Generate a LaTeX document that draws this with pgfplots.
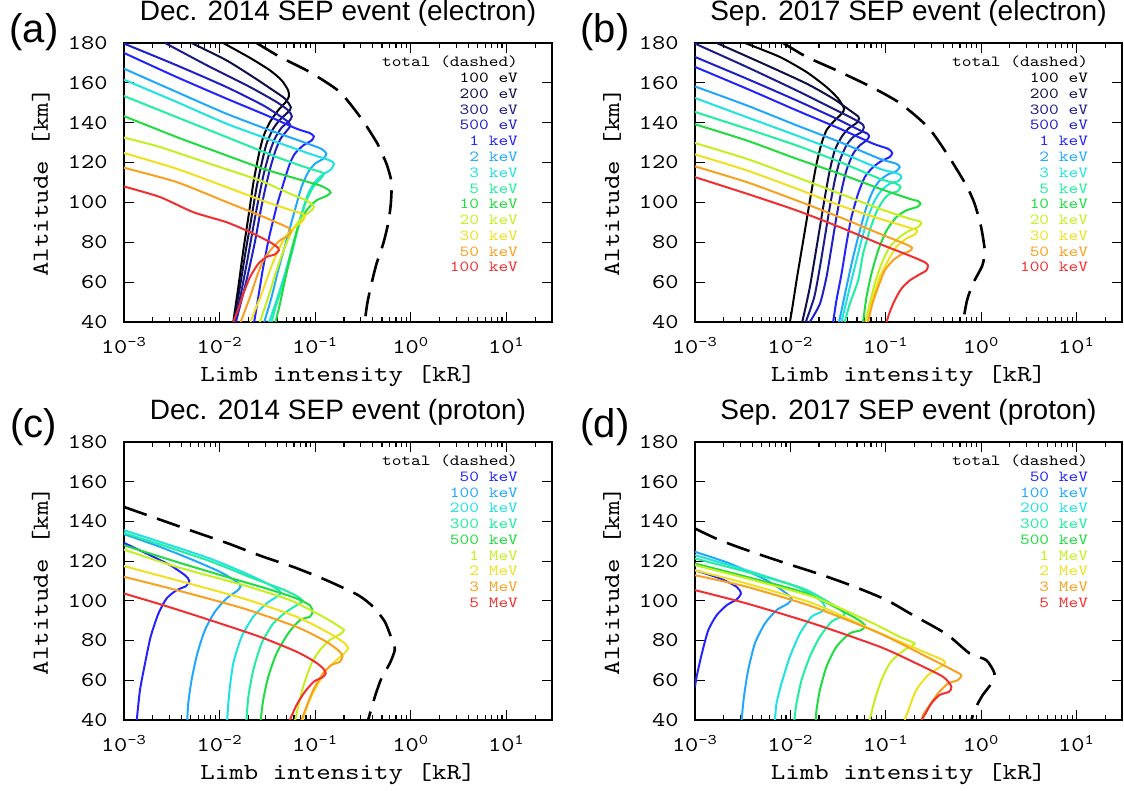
\documentclass[border=0pt]{standalone}
\usepackage{fontspec}
\setmainfont{Liberation Sans}
\newfontfamily\cour[FakeStretch=1.2]{lmmono10-regular.otf}
\usepackage{pgfplots}
\pgfplotsset{compat=1.18}

\definecolor{c1}{HTML}{000000}
\definecolor{c2}{HTML}{101048}
\definecolor{c3}{HTML}{1C1C88}
\definecolor{c4}{HTML}{2020C8}
\definecolor{c5}{HTML}{2424FF}
\definecolor{c6}{HTML}{20A8FF}
\definecolor{c7}{HTML}{20E2E0}
\definecolor{c8}{HTML}{20EEA0}
\definecolor{c9}{HTML}{20DC40}
\definecolor{c10}{HTML}{C4F020}
\definecolor{c11}{HTML}{F0E020}
\definecolor{c12}{HTML}{F8A020}
\definecolor{c13}{HTML}{F03030}

\pgfplotsset{
 myaxis/.style={
  scale only axis, width=214pt, height=139.5pt,
  xmin=1e-3, xmax=30, ymin=40, ymax=180,
  axis line style={line width=1.1pt},
  tick align=inside,
  major tick length=5pt, minor tick length=2.5pt,
  every tick/.append style={black, line width=0.6pt},
  xtick={0.001,0.01,0.1,1,10},
  xticklabels={10\textsuperscript{-3},10\textsuperscript{-2},10\textsuperscript{-1},10\textsuperscript{0},10\textsuperscript{1}},
  minor xtick={0.002,0.003,0.004,0.005,0.006,0.007,0.008,0.009,0.02,0.03,0.04,0.05,0.06,0.07,0.08,0.09,0.2,0.3,0.4,0.5,0.6,0.7,0.8,0.9,2,3,4,5,6,7,8,9,20,30},
  ytick={40,60,80,100,120,140,160,180},
  yticklabels={40,60,80,100,120,140,160,180},
  tick label style={font=\cour\fontsize{10.5}{12}\selectfont},
  yticklabel style={anchor=east, inner sep=0pt, xshift=-8pt},
  xticklabel style={anchor=base, inner sep=0pt, yshift=-16pt},
  xlabel={Limb intensity [kR]}, ylabel={Altitude [km]},
  xlabel style={at={(axis description cs:0.5,-0.2143)}, anchor=base, font=\cour\fontsize{11.5}{14}\selectfont},
  ylabel style={at={(axis description cs:-0.194,0.5)}, anchor=center, font=\cour\fontsize{11.5}{14}\selectfont},
  title style={at={(axis description cs:0.5,1)}, anchor=base, yshift=5pt, font=\fontsize{14}{16}\selectfont},
 },
 cv/.style={line width=1pt, smooth, tension=0.4},
 tot/.style={black, line width=1.3pt, dash pattern=on 12pt off 5.5pt, smooth, tension=0.4},
}
\tikzset{panel/.style={font=\fontsize{20}{22}\selectfont, xshift=-45pt, yshift=5.5pt}}
\newcommand{\legrow}[3]{\node[anchor=base east, inner sep=0pt, text=#2, font=\cour\fontsize{7.7}{9}\selectfont] at (rel axis cs:0.9213,#1) {#3};}

\begin{document}
\begin{tikzpicture}
\useasboundingbox (0,0) rectangle (562pt,395.5pt);

% ---------------- (a) ----------------
\begin{axis}[xmode=log, myaxis, name=axA, at={(62pt,234.5pt)}, anchor=south west, title={Dec. 2014 SEP event (electron)}]
\addplot[cv,c1] coordinates {(1.09e-2,180) (2.07e-2,172.6) (3.36e-2,166.3) (4.45e-2,161.3) (5.22e-2,156.2) (5.31e-2,153.2) (4.93e-2,150.4) (4.10e-2,146.2) (3.36e-2,140.3) (2.86e-2,132.8) (2.54e-2,122.8) (2.25e-2,109.4) (2.00e-2,92.6) (1.77e-2,75.9) (1.57e-2,57.5) (1.39e-2,40)};
\addplot[cv,c2] coordinates {(5.09e-3,180) (1.18e-2,171.3) (2.25e-2,162.9) (3.64e-2,156.2) (4.82e-2,152.1) (5.57e-2,147.7) (5.22e-2,145.4) (4.28e-2,141.5) (3.64e-2,137.0) (3.10e-2,129.5) (2.75e-2,119.4) (2.44e-2,107.7) (2.16e-2,92.6) (1.88e-2,75.9) (1.63e-2,57.5) (1.41e-2,40)};
\addplot[cv,c3] coordinates {(2.69e-3,180) (7.93e-3,168.0) (2.08e-2,157.9) (3.94e-2,150.4) (5.22e-2,146.2) (5.70e-2,143.2) (5.35e-2,140.8) (4.45e-2,137.5) (3.78e-2,132.0) (3.30e-2,124.4) (2.90e-2,114.4) (2.58e-2,102.7) (2.25e-2,87.6) (1.95e-2,70.9) (1.67e-2,54.1) (1.44e-2,40)};
\addplot[cv,c4] coordinates {(1.00e-3,179.7) (3.56e-3,168.8) (1.18e-2,157.9) (2.86e-2,148.7) (4.45e-2,142.8) (5.26e-2,140.2) (5.48e-2,138.3) (5.09e-2,136.2) (4.35e-2,132.0) (3.85e-2,126.1) (3.41e-2,117.7) (3.03e-2,107.7) (2.69e-2,96.0) (2.32e-2,79.2) (1.91e-2,60.8) (1.48e-2,40)};
\addplot[cv,c5] coordinates {(1.00e-3,175.0) (3.56e-3,162.9) (1.18e-2,152.1) (3.10e-2,143.7) (6.38e-2,137.0) (8.79e-2,134.8) (9.68e-2,133.1) (9.16e-2,131.1) (7.50e-2,128.6) (6.12e-2,124.4) (5.43e-2,119.4) (4.70e-2,110.2) (3.94e-2,97.7) (3.30e-2,82.6) (2.86e-2,67.5) (2.54e-2,52.5) (2.30e-2,40)};
\addplot[cv,c6] coordinates {(1.00e-3,167.1) (3.56e-3,155.4) (1.18e-2,144.5) (3.36e-2,136.2) (7.50e-2,130.3) (1.16e-1,126.9) (1.31e-1,124.4) (1.21e-1,121.9) (9.93e-2,119.4) (8.45e-2,115.2) (7.19e-2,107.7) (6.12e-2,96.0) (5.01e-2,80.9) (4.10e-2,65.9) (3.50e-2,52.5) (2.93e-2,40)};
\addplot[cv,c7] coordinates {(1.00e-3,161.6) (3.56e-3,150.4) (1.18e-2,139.5) (3.94e-2,130.3) (8.79e-2,124.4) (1.42e-1,121.1) (1.57e-1,119.4) (1.45e-1,116.4) (1.21e-1,114.1) (9.93e-2,110.2) (8.45e-2,104.4) (7.19e-2,94.3) (5.89e-2,79.2) (4.82e-2,64.2) (3.94e-2,50.8) (3.30e-2,40)};
\addplot[cv,c8] coordinates {(1.00e-3,153.4) (3.56e-3,142.8) (1.18e-2,132.8) (3.94e-2,122.8) (8.79e-2,116.9) (1.16e-1,115.2) (1.23e-1,114.1) (1.14e-1,111.9) (9.53e-2,107.7) (8.11e-2,101.0) (6.92e-2,91.0) (5.79e-2,75.9) (4.63e-2,59.2) (3.94e-2,49.1) (3.50e-2,40)};
\addplot[cv,c9] coordinates {(1.00e-3,143.3) (3.56e-3,132.8) (1.18e-2,123.6) (2.86e-2,116.9) (6.38e-2,111.9) (1.12e-1,108.5) (1.37e-1,106.4) (1.45e-1,104.9) (1.31e-1,103.2) (1.03e-1,101.0) (8.11e-2,96.0) (6.64e-2,87.6) (5.66e-2,75.9) (4.82e-2,60.8) (4.28e-2,49.1) (3.85e-2,40)};
\addplot[cv,c10] coordinates {(1.00e-3,132.5) (2.38e-3,127.8) (7.93e-3,119.4) (2.64e-2,111.0) (5.43e-2,104.4) (8.11e-2,101.0) (9.68e-2,98.0) (9.16e-2,96.0) (7.80e-2,93.5) (6.64e-2,90.1) (5.66e-2,85.1) (4.82e-2,77.6) (3.94e-2,65.9) (3.23e-2,52.5) (2.64e-2,40)};
\addplot[cv,c11] coordinates {(1.00e-3,124.8) (3.56e-3,116.9) (1.18e-2,107.7) (3.10e-2,100.2) (5.66e-2,96.0) (7.38e-2,94.3) (7.80e-2,92.6) (7.19e-2,90.1) (6.12e-2,87.6) (5.01e-2,83.4) (4.10e-2,75.9) (3.36e-2,65.9) (2.75e-2,54.1) (2.34e-2,45.8) (2.11e-2,40)};
\addplot[cv,c12] coordinates {(1.00e-3,117.4) (3.56e-3,110.2) (1.18e-2,100.2) (2.64e-2,93.5) (4.63e-2,88.5) (5.43e-2,86.8) (5.57e-2,85.6) (5.22e-2,83.4) (4.28e-2,80.9) (3.50e-2,76.7) (2.86e-2,70.9) (2.44e-2,62.5) (2.08e-2,52.5) (1.66e-2,40)};
\addplot[cv,c13] coordinates {(1.00e-3,108.0) (2.38e-3,102.7) (5.31e-3,95.1) (1.18e-2,90.1) (2.08e-2,85.1) (3.36e-2,80.1) (4.10e-2,77.2) (4.17e-2,75.9) (3.78e-2,73.9) (3.10e-2,72.6) (2.54e-2,69.2) (2.08e-2,62.5) (1.77e-2,54.1) (1.57e-2,46.6) (1.39e-2,40)};
\addplot[tot] coordinates {(2.44e-2,180) (4.28e-2,173.0) (8.79e-2,165.4) (1.81e-1,155.4) (3.05e-1,142.0) (4.38e-1,130.3) (4.82e-1,126.1) (5.57e-1,119.4) (6.28e-1,110.2) (6.18e-1,99.3) (5.79e-1,89.3) (5.14e-1,79.2) (4.38e-1,69.2) (3.88e-1,59.2) (3.50e-1,49.1) (3.30e-1,40)};
\legrow{0.915}{black}{total (dashed)}
\legrow{0.8584}{c1}{100 eV}
\legrow{0.8018}{c2}{200 eV}
\legrow{0.7452}{c3}{300 eV}
\legrow{0.6886}{c4}{500 eV}
\legrow{0.6320}{c5}{1 keV}
\legrow{0.5754}{c6}{2 keV}
\legrow{0.5188}{c7}{3 keV}
\legrow{0.4622}{c8}{5 keV}
\legrow{0.4056}{c9}{10 keV}
\legrow{0.3490}{c10}{20 keV}
\legrow{0.2924}{c11}{30 keV}
\legrow{0.2358}{c12}{50 keV}
\legrow{0.1792}{c13}{100 keV}
\end{axis}
\node[panel] at (axA.north west) {(a)};

% ---------------- (b) ----------------
\begin{axis}[xmode=log, myaxis, name=axB, at={(347.5pt,234.5pt)}, anchor=south west, width=213.5pt, title={Sep. 2017 SEP event (electron)}]
\addplot[cv,c1] coordinates {(3.34e-3,180) (7.76e-3,173.0) (1.48e-2,165.4) (2.39e-2,157.9) (3.17e-2,152.1) (3.66e-2,147.0) (3.44e-2,144.5) (2.81e-2,140.3) (2.39e-2,136.2) (2.12e-2,129.5) (1.88e-2,119.4) (1.67e-2,106.0) (1.48e-2,91.0) (1.31e-2,75.9) (1.16e-2,60.8) (1.05e-2,47.4) (9.89e-3,40)};
\addplot[cv,c2] coordinates {(1.69e-3,180) (5.20e-3,169.6) (1.48e-2,159.6) (2.81e-2,152.1) (4.20e-2,146.2) (5.13e-2,143.2) (5.26e-2,142.0) (4.93e-2,139.8) (4.04e-2,137.0) (3.44e-2,132.8) (2.92e-2,126.1) (2.59e-2,116.1) (2.30e-2,102.7) (2.04e-2,87.6) (1.81e-2,72.6) (1.60e-2,57.5) (1.42e-2,45.8) (1.33e-2,40)};
\addplot[cv,c3] coordinates {(1.00e-3,179.7) (3.48e-3,168.0) (1.16e-2,156.2) (2.59e-2,147.9) (4.55e-2,142.0) (5.70e-2,139.2) (5.89e-2,137.5) (5.56e-2,135.3) (4.55e-2,132.8) (3.87e-2,128.6) (3.30e-2,121.1) (2.92e-2,111.0) (2.59e-2,97.7) (2.30e-2,82.6) (2.04e-2,67.5) (1.78e-2,52.5) (1.45e-2,40)};
\addplot[cv,c4] coordinates {(1.00e-3,173.0) (3.48e-3,162.1) (1.16e-2,151.2) (3.04e-2,142.0) (5.35e-2,136.2) (6.43e-2,134.5) (6.68e-2,133.1) (6.28e-2,131.1) (5.35e-2,128.6) (4.55e-2,124.4) (3.87e-2,116.1) (3.44e-2,106.0) (3.04e-2,92.6) (2.70e-2,77.6) (2.39e-2,62.5) (2.04e-2,49.1) (1.60e-2,40)};
\addplot[cv,c5] coordinates {(1.00e-3,168.0) (3.48e-3,157.1) (1.16e-2,146.2) (3.30e-2,137.0) (7.36e-2,129.5) (1.06e-1,126.9) (1.17e-1,124.8) (1.10e-1,122.8) (9.02e-2,120.8) (7.36e-2,117.7) (6.03e-2,112.7) (5.13e-2,104.4) (4.37e-2,92.6) (3.87e-2,79.2) (3.44e-2,64.2) (3.04e-2,50.8) (2.81e-2,40)};
\addplot[cv,c6] coordinates {(1.00e-3,158.2) (3.48e-3,148.7) (1.16e-2,138.7) (3.30e-2,130.3) (8.65e-2,121.9) (1.29e-1,119.4) (1.40e-1,117.7) (1.29e-1,115.7) (1.06e-1,114.1) (8.65e-2,111.0) (7.36e-2,106.0) (6.28e-2,97.7) (5.35e-2,85.9) (4.55e-2,72.6) (3.87e-2,57.5) (3.44e-2,45.8) (3.24e-2,40)};
\addplot[cv,c7] coordinates {(1.00e-3,152.4) (3.48e-3,142.8) (1.16e-2,133.6) (3.30e-2,125.3) (8.65e-2,116.9) (1.35e-1,114.4) (1.46e-1,112.7) (1.35e-1,110.7) (1.10e-1,109.4) (9.02e-2,106.0) (7.67e-2,101.0) (6.53e-2,92.6) (5.56e-2,80.9) (4.73e-2,67.5) (4.04e-2,54.1) (3.44e-2,40)};
\addplot[cv,c8] coordinates {(1.00e-3,145.4) (3.48e-3,137.0) (1.16e-2,128.6) (3.30e-2,120.3) (8.65e-2,111.9) (1.29e-1,109.4) (1.43e-1,107.7) (1.32e-1,105.5) (1.10e-1,104.4) (9.38e-2,101.0) (7.98e-2,95.1) (6.79e-2,85.9) (5.79e-2,74.2) (5.13e-2,60.8) (4.20e-2,49.1) (3.72e-2,40)};
\addplot[cv,c9] coordinates {(1.00e-3,139.2) (3.48e-3,131.1) (1.16e-2,121.9) (3.30e-2,114.4) (8.65e-2,106.9) (1.78e-1,101.8) (2.18e-1,100.7) (2.31e-1,99.3) (2.13e-1,97.7) (1.64e-1,96.0) (1.29e-1,92.6) (1.02e-1,85.9) (8.32e-2,75.9) (7.08e-2,64.2) (6.28e-2,52.5) (5.79e-2,40)};
\addplot[cv,c10] coordinates {(1.00e-3,129.8) (3.48e-3,121.9) (1.16e-2,112.7) (3.30e-2,104.4) (8.65e-2,96.8) (1.78e-1,91.8) (2.23e-1,90.6) (2.36e-1,89.6) (2.18e-1,87.6) (1.78e-1,85.9) (1.40e-1,82.6) (1.10e-1,77.6) (9.02e-2,69.2) (7.67e-2,59.2) (6.79e-2,49.1) (6.12e-2,40)};
\addplot[cv,c11] coordinates {(1.00e-3,124.1) (3.48e-3,116.1) (1.16e-2,106.9) (3.30e-2,98.5) (8.65e-2,91.8) (1.78e-1,87.3) (2.13e-1,85.9) (2.01e-1,83.9) (1.64e-1,81.8) (1.29e-1,77.6) (1.06e-1,70.9) (8.65e-2,62.5) (7.36e-2,52.5) (6.28e-2,40)};
\addplot[cv,c12] coordinates {(1.00e-3,118.1) (3.48e-3,110.2) (1.16e-2,101.0) (3.30e-2,92.6) (8.65e-2,84.3) (1.64e-1,78.9) (1.89e-1,77.2) (1.78e-1,75.6) (1.46e-1,73.9) (1.19e-1,70.9) (9.77e-2,65.9) (8.32e-2,57.5) (7.24e-2,49.1) (6.53e-2,40)};
\addplot[cv,c13] coordinates {(1.00e-3,112.7) (3.48e-3,104.4) (1.16e-2,96.0) (3.30e-2,87.6) (8.65e-2,79.2) (1.93e-1,72.6) (2.56e-1,70.0) (2.77e-1,68.4) (2.67e-1,65.9) (2.27e-1,63.9) (1.78e-1,60.8) (1.46e-1,56.7) (1.24e-1,50.8) (1.10e-1,44.9) (1.02e-1,40)};
\addplot[tot] coordinates {(8.41e-3,180) (1.48e-2,173.0) (3.04e-2,166.3) (7.08e-2,157.9) (1.40e-1,149.9) (2.77e-1,137.8) (4.50e-1,123.6) (7.00e-1,108.5) (8.55e-1,99.3) (1.00,87.6) (1.09,75.9) (1.03,68.4) (8.20e-1,59.2) (7.11e-1,50.8) (6.46e-1,40)};
\legrow{0.915}{black}{total (dashed)}
\legrow{0.8584}{c1}{100 eV}
\legrow{0.8018}{c2}{200 eV}
\legrow{0.7452}{c3}{300 eV}
\legrow{0.6886}{c4}{500 eV}
\legrow{0.6320}{c5}{1 keV}
\legrow{0.5754}{c6}{2 keV}
\legrow{0.5188}{c7}{3 keV}
\legrow{0.4622}{c8}{5 keV}
\legrow{0.4056}{c9}{10 keV}
\legrow{0.3490}{c10}{20 keV}
\legrow{0.2924}{c11}{30 keV}
\legrow{0.2358}{c12}{50 keV}
\legrow{0.1792}{c13}{100 keV}
\end{axis}
\node[panel] at (axB.north west) {(b)};

% ---------------- (c) ----------------
\begin{axis}[xmode=log, myaxis, name=axC, at={(62pt,35.5pt)}, anchor=south west, height=139pt, title={Dec. 2014 SEP event (proton)}]
\addplot[cv,c5] coordinates {(1.00e-3,129.2) (1.87e-3,123.0) (3.03e-3,118.0) (4.35e-3,112.9) (4.82e-3,110.1) (4.45e-3,107.4) (3.56e-3,105.4) (2.79e-3,101.2) (2.29e-3,93.6) (1.90e-3,81.9) (1.66e-3,68.5) (1.47e-3,55.1) (1.36e-3,40)};
\addplot[cv,c6] coordinates {(1.00e-3,133.6) (2.38e-3,127.2) (5.31e-3,120.5) (1.01e-2,114.6) (1.51e-2,109.6) (1.66e-2,107.4) (1.53e-2,105.1) (1.18e-2,101.2) (8.93e-3,94.5) (7.03e-3,85.3) (5.85e-3,73.5) (5.09e-3,60.1) (4.70e-3,48.4) (4.59e-3,40)};
\addplot[cv,c7] coordinates {(1.00e-3,135.6) (2.38e-3,129.7) (7.93e-3,121.3) (2.08e-2,112.9) (3.64e-2,107.1) (4.38e-2,104.2) (3.94e-2,102.0) (3.10e-2,98.7) (2.25e-2,92.0) (1.70e-2,81.9) (1.39e-2,68.5) (1.26e-2,53.4) (1.20e-2,40)};
\addplot[cv,c8] coordinates {(1.00e-3,134.2) (2.38e-3,128.4) (7.93e-3,120.0) (2.25e-2,111.3) (4.63e-2,105.7) (6.64e-2,102.0) (7.38e-2,100.0) (6.64e-2,98.3) (5.01e-2,94.5) (3.64e-2,88.6) (2.75e-2,78.6) (2.25e-2,65.1) (2.00e-2,51.7) (1.91e-2,40)};
\addplot[cv,c9] coordinates {(1.00e-3,128.0) (3.56e-3,119.6) (1.18e-2,112.1) (3.36e-2,105.7) (6.38e-2,101.2) (8.79e-2,97.8) (9.38e-2,94.5) (8.79e-2,92.0) (6.92e-2,90.3) (5.22e-2,83.6) (3.94e-2,73.5) (3.23e-2,61.8) (2.86e-2,50.1) (2.69e-2,40)};
\addplot[cv,c10] coordinates {(1.00e-3,125.8) (3.56e-3,117.1) (1.77e-2,107.9) (5.43e-2,100.4) (1.21e-1,92.0) (1.81e-1,86.9) (2.00e-1,85.3) (1.84e-1,83.3) (1.42e-1,80.2) (1.12e-1,75.2) (9.16e-2,68.5) (7.67e-2,58.4) (6.75e-2,48.4) (6.18e-2,40)};
\addplot[cv,c11] coordinates {(1.00e-3,117.5) (3.56e-3,110.4) (1.77e-2,101.2) (6.38e-2,92.0) (1.42e-1,83.6) (2.04e-1,78.6) (2.21e-1,76.0) (2.04e-1,73.9) (1.67e-1,70.2) (1.31e-1,65.1) (1.03e-1,56.8) (8.45e-2,48.4) (7.38e-2,40)};
\addplot[cv,c12] coordinates {(1.00e-3,112.1) (3.56e-3,105.4) (1.77e-2,96.2) (6.38e-2,86.9) (1.31e-1,79.4) (1.81e-1,74.4) (1.93e-1,71.9) (1.81e-1,69.3) (1.48e-1,67.7) (1.21e-1,63.5) (9.53e-2,55.1) (8.11e-2,46.7) (7.19e-2,40)};
\addplot[cv,c13] coordinates {(1.00e-3,103.7) (2.58e-3,97.8) (7.93e-3,90.3) (2.64e-2,81.9) (6.38e-2,74.4) (9.93e-2,69.3) (1.21e-1,66.0) (1.29e-1,63.5) (1.19e-1,61.5) (9.68e-2,59.3) (7.80e-2,54.2) (6.38e-2,47.5) (5.43e-2,40)};
\addplot[tot] coordinates {(1.00e-3,147.3) (2.38e-3,140.9) (5.52e-3,134.7) (1.23e-2,128.9) (2.75e-2,122.5) (6.12e-2,116.8) (1.31e-1,110.4) (2.81e-1,102.9) (4.04e-1,97.0) (5.35e-1,89.5) (6.28e-1,81.1) (6.81e-1,75.5) (6.03e-1,68.5) (4.93e-1,61.0) (4.21e-1,51.7) (3.58e-1,40)};
\legrow{0.915}{black}{total (dashed)}
\legrow{0.8584}{c5}{50 keV}
\legrow{0.8018}{c6}{100 keV}
\legrow{0.7452}{c7}{200 keV}
\legrow{0.6886}{c8}{300 keV}
\legrow{0.6320}{c9}{500 keV}
\legrow{0.5754}{c10}{1 MeV}
\legrow{0.5188}{c11}{2 MeV}
\legrow{0.4622}{c12}{3 MeV}
\legrow{0.4056}{c13}{5 MeV}
\end{axis}
\node[panel, yshift=2pt] at (axC.north west) {(c)};

% ---------------- (d) ----------------
\begin{axis}[xmode=log, myaxis, name=axD, at={(347.5pt,35.5pt)}, anchor=south west, width=213.5pt, height=139pt, title={Sep. 2017 SEP event (proton)}]
\addplot[cv,c5] coordinates {(1.00e-3,115.4) (1.83e-3,111.3) (2.73e-3,107.1) (3.03e-3,103.7) (2.73e-3,100.7) (2.15e-3,97.8) (1.69e-3,92.8) (1.38e-3,85.3) (1.18e-3,73.5) (1.04e-3,61.8) (1.00e-3,56.8)};
\addplot[cv,c6] coordinates {(1.00e-3,124.7) (2.32e-3,118.8) (5.62e-3,110.4) (9.12e-3,103.7) (1.03e-2,101.2) (9.48e-3,98.7) (7.16e-3,95.3) (5.41e-3,88.6) (4.25e-3,78.6) (3.61e-3,65.1) (3.26e-3,51.7) (3.08e-3,40)};
\addplot[cv,c7] coordinates {(1.00e-3,123.0) (3.48e-3,115.4) (1.16e-2,107.1) (2.04e-2,100.4) (2.30e-2,97.0) (2.12e-2,94.5) (1.67e-2,92.0) (1.26e-2,83.6) (9.89e-3,71.9) (8.07e-3,58.4) (7.16e-3,48.4) (6.89e-3,40)};
\addplot[cv,c8] coordinates {(1.00e-3,121.3) (3.48e-3,114.6) (1.36e-2,106.2) (3.04e-2,97.0) (3.72e-2,93.6) (3.44e-2,92.0) (2.70e-2,89.5) (2.04e-2,81.9) (1.60e-2,71.9) (1.31e-2,60.1) (1.16e-2,48.4) (1.10e-2,40)};
\addplot[cv,c9] coordinates {(1.00e-3,118.8) (3.48e-3,112.1) (1.48e-2,103.7) (4.55e-2,92.0) (6.03e-2,87.8) (5.56e-2,85.3) (4.20e-2,83.6) (3.04e-2,76.9) (2.39e-2,66.8) (2.04e-2,55.1) (1.88e-2,45.0) (1.85e-2,40)};
\addplot[cv,c10] coordinates {(1.00e-3,118.0) (3.48e-3,111.3) (1.73e-2,102.0) (6.28e-2,90.3) (1.40e-1,81.9) (2.01e-1,78.6) (1.78e-1,76.9) (1.40e-1,73.5) (1.10e-1,68.5) (9.02e-2,60.1) (7.67e-2,50.1) (6.79e-2,40)};
\addplot[cv,c11] coordinates {(1.00e-3,115.4) (3.48e-3,108.7) (1.73e-2,98.7) (7.36e-2,85.3) (2.27e-1,75.2) (3.98e-1,70.2) (4.15e-1,68.5) (3.67e-1,66.5) (2.77e-1,62.6) (2.09e-1,55.1) (1.78e-1,46.7) (1.58e-1,40)};
\addplot[cv,c12] coordinates {(1.00e-3,112.9) (3.48e-3,107.1) (1.73e-2,97.0) (8.65e-2,83.6) (2.67e-1,71.9) (5.07e-1,65.1) (6.19e-1,62.6) (5.71e-1,60.1) (4.50e-1,58.4) (3.53e-1,53.4) (2.89e-1,47.5) (2.46e-1,42.5) (2.40e-1,40)};
\addplot[cv,c13] coordinates {(1.00e-3,105.4) (3.48e-3,98.7) (1.73e-2,88.6) (8.65e-2,76.9) (1.93e-1,69.3) (3.98e-1,61.8) (4.88e-1,56.8) (4.60e-1,54.2) (3.67e-1,52.6) (3.01e-1,48.4) (2.62e-1,43.4) (2.36e-1,40)};
\addplot[tot] coordinates {(1.00e-3,136.4) (1.83e-3,130.5) (3.92e-3,124.7) (9.12e-3,118.8) (2.04e-2,113.4) (4.55e-2,107.4) (1.02e-1,100.4) (1.93e-1,92.8) (4.32e-1,83.3) (7.59e-1,73.5) (1.13,70.2) (1.38,63.5) (1.28,58.4) (1.04,52.6) (8.89e-1,46.7) (7.89e-1,40)};
\legrow{0.915}{black}{total (dashed)}
\legrow{0.8584}{c5}{50 keV}
\legrow{0.8018}{c6}{100 keV}
\legrow{0.7452}{c7}{200 keV}
\legrow{0.6886}{c8}{300 keV}
\legrow{0.6320}{c9}{500 keV}
\legrow{0.5754}{c10}{1 MeV}
\legrow{0.5188}{c11}{2 MeV}
\legrow{0.4622}{c12}{3 MeV}
\legrow{0.4056}{c13}{5 MeV}
\end{axis}
\node[panel, yshift=2pt] at (axD.north west) {(d)};
\end{tikzpicture}
\end{document}
